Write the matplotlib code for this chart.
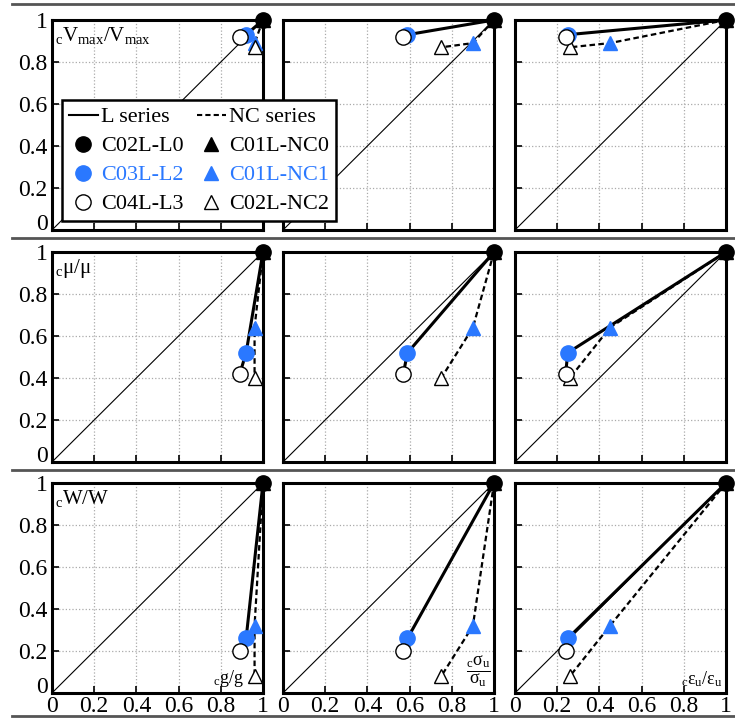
import matplotlib
matplotlib.use("Agg")
import matplotlib.pyplot as plt
from matplotlib.lines import Line2D

plt.rcParams['font.family'] = ['Liberation Serif', 'DejaVu Serif']
plt.rcParams['mathtext.fontset'] = 'custom'
plt.rcParams['mathtext.rm'] = 'Liberation Serif'
plt.rcParams['mathtext.it'] = 'Liberation Serif:italic'

BLUE = "#2a78ff"

# x values per column: cg/g, cσu/σu, cεu/εu  (order: L0, L2, L3 / NC0, NC1, NC2)
x_L = [[1.0, 0.92, 0.89], [1.0, 0.59, 0.57], [1.0, 0.25, 0.24]]
x_NC = [[1.0, 0.96, 0.96], [1.0, 0.90, 0.75], [1.0, 0.45, 0.26]]

# y values per row: cVmax/Vmax, cμ/μ, cW/W
y_L = [[1.0, 0.93, 0.92], [1.0, 0.52, 0.42], [1.0, 0.26, 0.20]]
y_NC = [[1.0, 0.89, 0.87], [1.0, 0.64, 0.40], [1.0, 0.32, 0.08]]

row_labels = [r'${}_\mathrm{c}\mathrm{V}_\mathrm{max}/\mathrm{V}_\mathrm{max}$',
              r'${}_\mathrm{c}\mathrm{μ}/\mathrm{μ}$',
              r'${}_\mathrm{c}\mathrm{W}/\mathrm{W}$']
col_labels = [r'${}_\mathrm{c}\mathrm{g}/\mathrm{g}$',
              r'$\dfrac{{}_\mathrm{c}\mathrm{σ}_\mathrm{u}}{\mathrm{σ}_\mathrm{u}}$',
              r'${}_\mathrm{c}\mathrm{ε}_\mathrm{u}/\mathrm{ε}_\mathrm{u}$']
col_label_x = [0.91, 0.985, 0.985]

ticks = [0, 0.2, 0.4, 0.6, 0.8, 1]
tick_labels = ["0", "0.2", "0.4", "0.6", "0.8", "1"]

L_names = ["C02L-L0", "C03L-L2", "C04L-L3"]
NC_names = ["C01L-NC0", "C01L-NC1", "C02L-NC2"]

W, H = 735, 718
fig = plt.figure(figsize=(W / 100, H / 100), dpi=100)

lefts = [52, 283, 515]
tops = [20, 252, 483]
aw, ah = 211, 210

face = ["black", BLUE, "white"]
edge = ["black", BLUE, "black"]

for r in range(3):
    for c in range(3):
        ax = fig.add_axes([lefts[c] / W, 1 - (tops[r] + ah) / H, aw / W, ah / H])
        ax.set_xlim(0, 1)
        ax.set_ylim(0, 1)
        ax.set_xticks(ticks)
        ax.set_yticks(ticks)
        ax.grid(True, color="#aaaaaa", linestyle=":", linewidth=0.9)
        ax.set_axisbelow(True)
        for s in ax.spines.values():
            s.set_linewidth(2.2)
        ax.tick_params(direction="in", length=5, width=1.2, labelsize=17)
        ax.tick_params(axis="x", pad=2)
        ax.tick_params(axis="y", pad=3)
        if c == 0:
            ax.set_yticklabels(tick_labels)
            # the "0" sits on the axis line, above the x labels
            ax.get_yticklabels()[0].set_va("baseline")
        else:
            ax.set_yticklabels([])
        if r == 2:
            ax.set_xticklabels(tick_labels)
        else:
            ax.set_xticklabels([])

        ax.plot([0, 1], [0, 1], color="black", lw=0.8, zorder=2)
        ax.plot(x_L[c], y_L[r], color="black", lw=2.2, ls="-", zorder=3, clip_on=False)
        ax.plot(x_NC[c], y_NC[r], color="black", lw=1.6, ls=(0, (2.5, 1.5)), zorder=3, clip_on=False)
        for i in range(3):
            ax.plot(x_L[c][i], y_L[r][i], marker="o", ms=11, mfc=face[i], mec=edge[i],
                    mew=1.0, ls="none", zorder=5, clip_on=False)
            ax.plot(x_NC[c][i], y_NC[r][i], marker="^", ms=10.5, mfc=face[i], mec=edge[i],
                    mew=1.0, ls="none", zorder=4, clip_on=False)

        if c == 0:
            ax.text(0.015, 0.975, row_labels[r], transform=ax.transAxes, ha="left", va="top",
                    fontsize=15, zorder=6)
        if r == 2:
            ax.text(col_label_x[c], 0.02, col_labels[c], transform=ax.transAxes, ha="right",
                    va="bottom", fontsize=13, zorder=6)

# row separators
for yy in [4, 238, 470, 716]:
    fig.add_artist(Line2D([12 / W, 1], [1 - yy / H, 1 - yy / H], color="#555555", lw=2))

handles = [Line2D([], [], color="black", lw=1.5, ls="-")]
for i in range(3):
    handles.append(Line2D([], [], marker="o", ms=11, mfc=face[i], mec=edge[i], ls="none"))
handles.append(Line2D([], [], color="black", lw=1.5, ls=(0, (2.5, 1.5))))
for i in range(3):
    handles.append(Line2D([], [], marker="^", ms=10.5, mfc=face[i], mec=edge[i], ls="none"))
labels = ["L series"] + L_names + ["NC series"] + NC_names

leg = fig.legend(handles, labels, ncol=2, loc="lower left",
                 bbox_to_anchor=(62 / W, 1 - 221 / H), fontsize=16,
                 frameon=True, fancybox=False, edgecolor="black", framealpha=1,
                 handlelength=1.3, handletextpad=0.15, columnspacing=0.6,
                 labelspacing=0.38, borderpad=0.3, borderaxespad=0)
leg.get_frame().set_linewidth(1.8)
for t in leg.get_texts():
    if t.get_text() in ("C03L-L2", "C01L-NC1"):
        t.set_color(BLUE)

fig.savefig("out.png", dpi=100)
